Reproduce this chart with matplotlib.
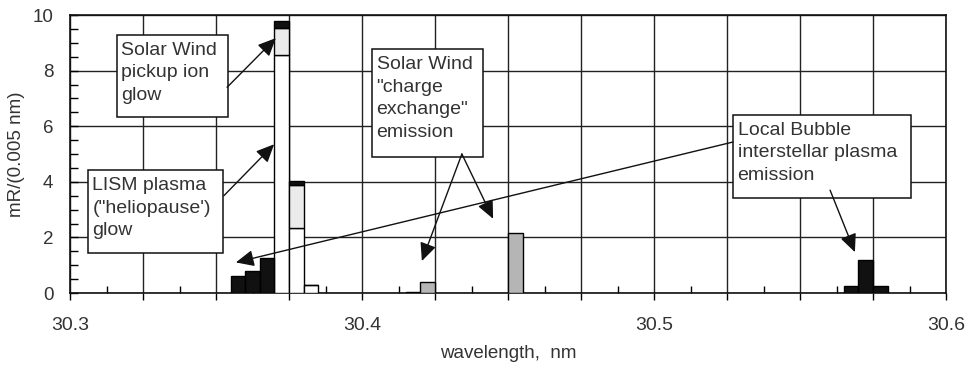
import numpy as np
import matplotlib
matplotlib.use("Agg")
import matplotlib.pyplot as plt
from matplotlib.patches import Rectangle
from matplotlib.ticker import MultipleLocator, FuncFormatter

plt.rcParams['font.family'] = ['Liberation Sans', 'DejaVu Sans']

# bin centres (nm), each bin is 0.005 nm wide
wavelength = [30.3575, 30.3625, 30.3675, 30.3725, 30.3775, 30.3825,
              30.4175, 30.4225, 30.4525, 30.5675, 30.5725, 30.5775]
# stacked components, mR/(0.005 nm)
lism_glow = [0, 0, 0, 8.55, 2.35, 0.27, 0, 0, 0, 0, 0, 0]
pickup_glow = [0, 0, 0, 1.0, 1.55, 0, 0, 0, 0, 0, 0, 0]
bubble_emission = [0.6, 0.8, 1.25, 0.25, 0.12, 0.03, 0.05, 0, 0, 0.25, 1.2, 0.25]
charge_exchange = [0, 0, 0, 0, 0, 0, 0, 0.4, 2.15, 0, 0, 0]

bin_width = 0.005
text_col = '#333333'


def draw(ax, values, bottom, color):
    x = np.array(wavelength)
    v = np.array(values, dtype=float)
    b = np.array(bottom, dtype=float)
    m = v > 0
    ax.bar(x[m], v[m], width=bin_width, bottom=b[m], color=color,
           edgecolor='black', linewidth=1, zorder=3)


def main():
    fig = plt.figure(figsize=(9.73, 3.74), dpi=100)
    ax = fig.add_axes([70 / 973, 1 - 293 / 374, 876 / 973, 278 / 374])

    zero = np.zeros(len(wavelength))
    draw(ax, lism_glow, zero, 'white')
    draw(ax, pickup_glow, np.array(lism_glow), '#ebebeb')
    draw(ax, bubble_emission, np.array(lism_glow) + np.array(pickup_glow), '#111111')
    draw(ax, charge_exchange, zero, '#b5b5b5')

    ax.set_xlim(30.3, 30.6)
    ax.set_ylim(0, 10)

    ax.xaxis.set_major_locator(MultipleLocator(0.025))
    ax.xaxis.set_minor_locator(MultipleLocator(0.0125))
    ax.xaxis.set_major_formatter(FuncFormatter(
        lambda v, p: '%.1f' % v if abs(v * 10 - round(v * 10)) < 1e-6 else ''))
    ax.yaxis.set_major_locator(MultipleLocator(2))
    ax.yaxis.set_minor_locator(MultipleLocator(0.5))

    ax.grid(True, which='major', color='#222222', linewidth=1)
    ax.set_axisbelow(True)
    ax.tick_params(axis='x', which='major', direction='out', length=5,
                   width=1, pad=12, labelsize=14, labelcolor=text_col)
    ax.tick_params(axis='x', which='minor', direction='in', length=5, width=1)
    ax.tick_params(axis='y', which='major', direction='in', length=6,
                   width=1, pad=12, labelsize=13.5, labelcolor=text_col)
    ax.tick_params(axis='y', which='minor', direction='in', length=6, width=1)
    for s in ax.spines.values():
        s.set_linewidth(1.2)
        s.set_color('#111111')

    ax.set_xlabel('wavelength,  nm', fontsize=13.5, color=text_col)
    ax.set_ylabel('mR/(0.005 nm)', fontsize=13.5, color=text_col)
    ax.xaxis.set_label_coords(0.5, -0.187)
    ax.yaxis.set_label_coords(-0.051, 0.5)

    # annotation boxes, in axes fraction: (left, bottom, width, height)
    boxes = [
        ((0.0537, 0.633, 0.127, 0.295), 'Solar Wind\npickup ion\nglow'),
        ((0.0205, 0.144, 0.154, 0.298), 'LISM plasma\n("heliopause\')\nglow'),
        ((0.345, 0.489, 0.126, 0.388), 'Solar Wind\n"charge\nexchange"\nemission'),
        ((0.757, 0.342, 0.203, 0.640 - 0.342), 'Local Bubble\ninterstellar plasma\nemission'),
    ]
    for (x0, y0, w, h), txt in boxes:
        ax.add_patch(Rectangle((x0, y0), w, h, transform=ax.transAxes,
                               facecolor='white', edgecolor='#111111',
                               linewidth=1.1, zorder=4))
        ax.text(x0 + 0.005, y0 + h - 0.025, txt, transform=ax.transAxes,
                ha='left', va='top', fontsize=14, color=text_col,
                linespacing=1.42, zorder=5)

    arrows = [
        ((30.3538, 7.4), (30.3705, 9.17)),
        ((30.3527, 3.5), (30.3699, 5.35)),
        ((30.4342, 5.0), (30.4205, 1.15)),
        ((30.4342, 5.0), (30.4449, 2.67)),
        ((30.5270, 5.43), (30.3568, 1.1)),
        ((30.5603, 3.7), (30.5688, 1.47)),
    ]
    for start, tip in arrows:
        ax.annotate('', xy=tip, xytext=start,
                    arrowprops=dict(arrowstyle='-|>,head_length=0.55,head_width=0.25',
                                    color='#111111', lw=1, mutation_scale=20,
                                    shrinkA=0, shrinkB=0),
                    zorder=6)

    fig.savefig('out.png', dpi=100)


if __name__ == "__main__":
    main()
